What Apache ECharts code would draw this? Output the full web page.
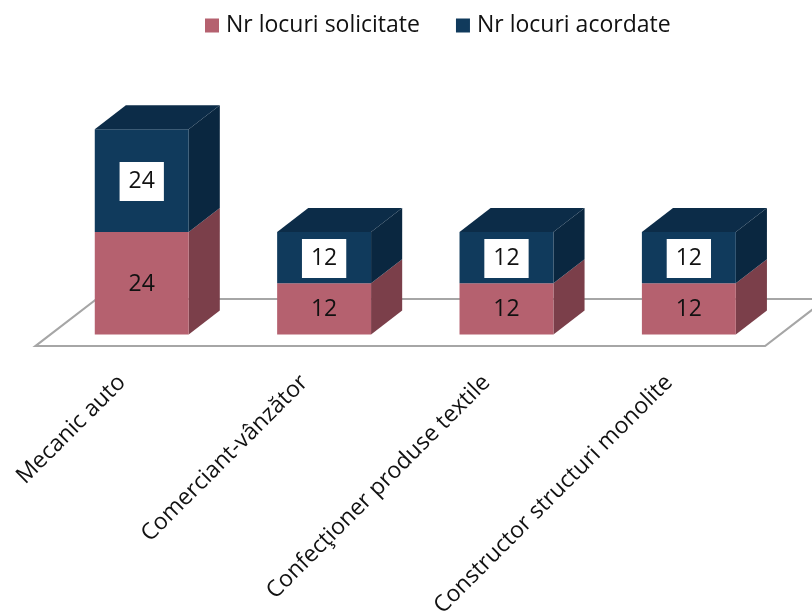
<!DOCTYPE html>
<html><head><meta charset="utf-8">
<script src="https://cdn.jsdelivr.net/npm/echarts@6/dist/echarts.min.js"></script>
<style>html,body{margin:0;padding:0;background:#fff}#c{width:812px;height:611px}</style>
</head><body><div id="c"></div>
<script>
const categories = ['Mecanic auto', 'Comerciant-vânzător', 'Confecţioner produse textile', 'Constructor structuri monolite'];
const solicitate = [24, 12, 12, 12];
const acordate = [24, 12, 12, 12];
const seriesNames = ['Nr locuri solicitate', 'Nr locuri acordate'];

const FONT = '"Open Sans", sans-serif';
const FLOOR_DX = 61, FLOOR_DY = -47;
const BAR_FRONT = 0.245, BAR_BACK = 0.755;
const BAR_WIDTH_FRAC = 0.515;

const pink = {front: '#b5616f', side: '#7b3f4a', top: '#94505c'};
const blue = {front: '#103a5c', side: '#0a2740', top: '#0c2c48'};

function barRender(pal, showTop, boxed) {
  return function (params, api) {
    const cat = api.value(0), base = api.value(1), top = api.value(2), val = api.value(3);
    const p0 = api.coord([cat, base]);
    const p1 = api.coord([cat, top]);
    const band = api.size([1, 0])[0];
    const w = band * BAR_WIDTH_FRAC;
    const ox = FLOOR_DX * BAR_FRONT, oy = FLOOR_DY * BAR_FRONT;
    const dx = FLOOR_DX * (BAR_BACK - BAR_FRONT), dy = FLOOR_DY * (BAR_BACK - BAR_FRONT);
    const xl = p0[0] + ox - w / 2, xr = xl + w;
    const yb = p0[1] + oy, yt = p1[1] + oy;
    const children = [
      {type: 'polygon', shape: {points: [[xr, yb], [xr + dx, yb + dy], [xr + dx, yt + dy], [xr, yt]]}, style: {fill: pal.side}},
      {type: 'rect', shape: {x: xl, y: yt, width: w, height: yb - yt}, style: {fill: pal.front}}
    ];
    if (showTop) {
      children.push({type: 'polygon', shape: {points: [[xl, yt], [xl + dx, yt + dy], [xr + dx, yt + dy], [xr, yt]]}, style: {fill: pal.top}});
    }
    const ts = {
      text: String(val), x: (xl + xr) / 2, y: (yt + yb) / 2 + 1,
      align: 'center', verticalAlign: 'middle',
      fontSize: 23, fontFamily: FONT, fill: '#111'
    };
    if (boxed) { ts.backgroundColor = '#ffffff'; ts.padding = [8, 9, 8, 9]; }
    children.push({type: 'text', style: ts});
    return {type: 'group', children: children};
  };
}

function floorRender(params, api) {
  const cs = params.coordSys;
  const x0 = cs.x, x1 = cs.x + cs.width, y0 = cs.y + cs.height;
  return {
    type: 'polygon',
    shape: {points: [[x0, y0], [x1, y0], [x1 + FLOOR_DX, y0 + FLOOR_DY], [x0 + FLOOR_DX, y0 + FLOOR_DY]]},
    style: {fill: '#ffffff', stroke: '#a6a6a6', lineWidth: 2.2}
  };
}

const pinkData = categories.map((c, i) => [i, 0, solicitate[i], solicitate[i]]);
const blueData = categories.map((c, i) => [i, solicitate[i], solicitate[i] + acordate[i], acordate[i]]);

const chart = echarts.init(document.getElementById('c'), null, {renderer: 'canvas'});
chart.setOption({
  animation: false,
  backgroundColor: '#ffffff',
  legend: {
    data: seriesNames,
    top: 9, left: 200,
    icon: 'rect', itemWidth: 14, itemHeight: 14, itemGap: 36,
    textStyle: {fontSize: 23, fontFamily: FONT, color: '#111', padding: [0, 0, 0, 2]}
  },
  grid: {left: 35.6, right: 46.9, bottom: 265, top: 132.25, containLabel: false, outerBoundsMode: 'none'},
  xAxis: {
    type: 'category', data: categories,
    axisLine: {show: false}, axisTick: {show: false}, splitLine: {show: false},
    axisLabel: {interval: 0, rotate: 45, margin: 28, padding: [0, 7, 0, 0], fontSize: 23, fontFamily: FONT, color: '#111'}
  },
  yAxis: {type: 'value', min: 0, max: 50, show: false, splitLine: {show: false}},
  series: [
    {name: 'floor', type: 'custom', z: 1, renderItem: floorRender, data: [[0, 0]], silent: true},
    {name: seriesNames[0], type: 'custom', z: 3, renderItem: barRender(pink, false, false), data: pinkData, itemStyle: {color: pink.front}, encode: {x: 0, y: [1, 2]}},
    {name: seriesNames[1], type: 'custom', z: 4, renderItem: barRender(blue, true, true), data: blueData, itemStyle: {color: blue.front}, encode: {x: 0, y: [1, 2]}}
  ]
});
</script></body></html>
